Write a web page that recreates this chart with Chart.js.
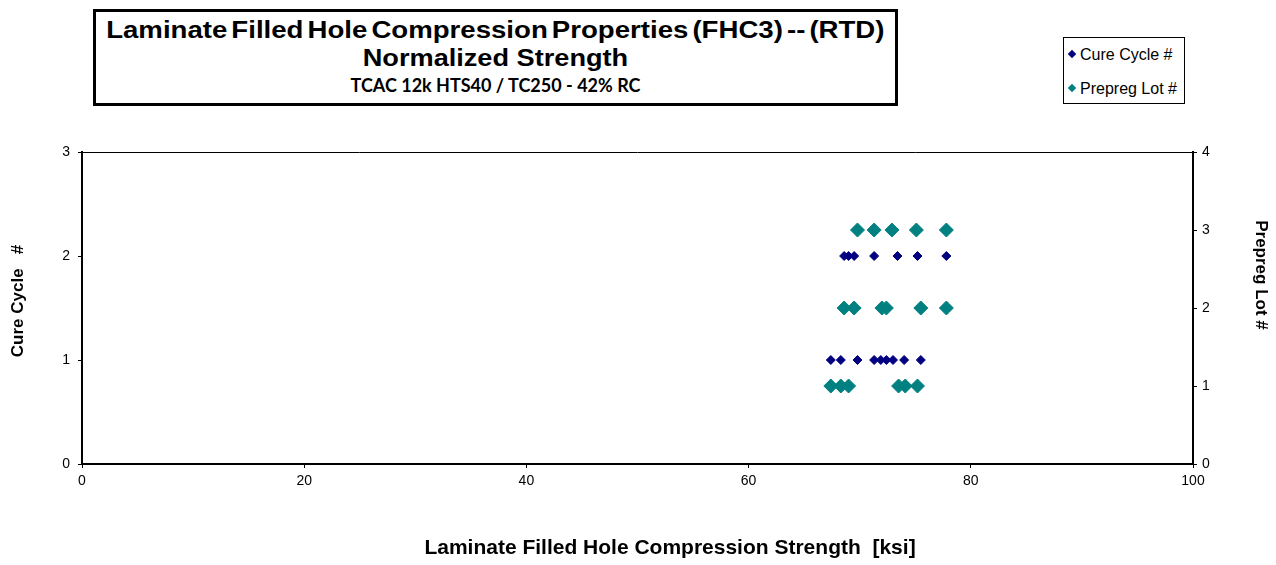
<!DOCTYPE html>
<html>
<head>
<meta charset="utf-8">
<script src="https://cdn.jsdelivr.net/npm/chart.js@4.4.1/dist/chart.umd.min.js"></script>
<style>
  body { margin: 0; background: #fff; }
  #wrap { position: relative; width: 1276px; height: 565px; }
  #chart { position: absolute; left: 0; top: 0; }
  #titleBox {
    position: absolute; left: 93px; top: 9px; width: 799px; height: 91px;
    border: 3px solid #000; background: #fff; text-align: center;
    font-family: "Liberation Sans", Arial, sans-serif; font-weight: bold; color: #000;
  }
  #titleBox div { line-height: 28px; }
  #titleBox span { display: inline-block; white-space: nowrap; }
  #titleBox .t1 { font-size: 23px; margin-top: 4px; }
  #titleBox .t1 span { transform: scaleX(1.2); word-spacing: -3px; }
  #titleBox .t2 { font-size: 23px; }
  #titleBox .t2 span { transform: scaleX(1.18); }
  #titleBox .t3 { font-family: Lato, "Open Sans", sans-serif; font-size: 18px; line-height: 26px; }
  #legendBox {
    position: absolute; left: 1063px; top: 37px; width: 120px; height: 65px;
    border: 1px solid #000; background: #fff;
    font-family: "Liberation Sans", Arial, sans-serif; font-size: 16px; color: #000;
  }
  .item { position: absolute; left: 5px; white-space: nowrap; }
  .mark { display: inline-block; width: 6px; height: 6px; transform: rotate(45deg); margin-right: 5px; vertical-align: 3px; }
</style>
</head>
<body>
<div id="wrap">
  <canvas id="chart" width="1276" height="565"></canvas>
  <div id="titleBox">
    <div class="t1"><span>Laminate Filled Hole Compression Properties (FHC3) -- (RTD)</span></div>
    <div class="t2"><span>Normalized Strength</span></div>
    <div class="t3"><span>TCAC 12k HTS40 / TC250 - 42% RC</span></div>
  </div>
  <div id="legendBox">
    <div class="item" style="top:8px"><span class="mark" style="background:#000080"></span>Cure Cycle #</div>
    <div class="item" style="top:42px"><span class="mark" style="background:#008080"></span>Prepreg Lot #</div>
  </div>
</div>
<script>
// values
var cureStrength = [68.6, 69.0, 69.5, 71.3, 73.4, 75.2, 77.8,
                    67.4, 68.3, 69.8, 71.3, 71.9, 72.4, 73.0, 74.0, 75.5];
var cureCycle    = [2, 2, 2, 2, 2, 2, 2,
                    1, 1, 1, 1, 1, 1, 1, 1, 1];

var lotStrength  = [69.8, 71.3, 72.9, 75.1, 77.8,
                    68.6, 69.5, 72.0, 72.4, 75.5, 77.8,
                    67.4, 68.3, 69.0, 73.5, 74.1, 75.2];
var prepregLot   = [3, 3, 3, 3, 3,
                    2, 2, 2, 2, 2, 2,
                    1, 1, 1, 1, 1, 1];

var xTicks = [0, 20, 40, 60, 80, 100];
var xTitle = 'Laminate Filled Hole Compression Strength  [ksi]';
var yTitle = 'Cure Cycle   #';
var y2Title = 'Prepreg Lot #';

function toPoints(xs, ys) {
  return xs.map(function(x, i) { return { x: x, y: ys[i] }; });
}

var tickFont = { family: '"Liberation Sans", Arial, sans-serif', size: 14 };

// frame top line and the three axis titles, placed like the original
var extras = {
  id: 'extras',
  afterDraw: function(chart) {
    var ctx = chart.ctx, a = chart.chartArea;
    ctx.save();
    ctx.strokeStyle = '#000';
    ctx.lineWidth = 1;
    ctx.beginPath();
    ctx.moveTo(a.left, a.top + 0.5);
    ctx.lineTo(a.right, a.top + 0.5);
    ctx.stroke();

    ctx.fillStyle = '#000';
    ctx.textAlign = 'center';
    ctx.textBaseline = 'middle';
    ctx.font = 'bold 21px "Liberation Sans", Arial, sans-serif';
    ctx.fillText(xTitle, 670, 548);

    ctx.font = 'bold 17px "Liberation Sans", Arial, sans-serif';
    ctx.save();
    ctx.translate(18, 301);
    ctx.rotate(-Math.PI / 2);
    ctx.fillText(yTitle, 0, 0);
    ctx.restore();

    ctx.font = 'bold 17px "Liberation Sans", Arial, sans-serif';
    ctx.save();
    ctx.translate(1261, 275);
    ctx.rotate(Math.PI / 2);
    ctx.fillText(y2Title, 0, 0);
    ctx.restore();
    ctx.restore();
  }
};

new Chart(document.getElementById('chart'), {
  type: 'scatter',
  data: {
    datasets: [{
      label: 'Cure Cycle #',
      data: toPoints(cureStrength, cureCycle),
      yAxisID: 'y',
      pointStyle: 'rectRot',
      pointRadius: 4.5,
      borderWidth: 1,
      backgroundColor: '#000080',
      borderColor: '#000080'
    }, {
      label: 'Prepreg Lot #',
      data: toPoints(lotStrength, prepregLot),
      yAxisID: 'y2',
      pointStyle: 'rectRot',
      pointRadius: 7,
      borderWidth: 1,
      backgroundColor: '#008080',
      borderColor: '#008080'
    }]
  },
  options: {
    responsive: false,
    animation: false,
    layout: { padding: { top: 152, left: 0, right: 0, bottom: 0 } },
    plugins: { legend: { display: false }, tooltip: { enabled: false } },
    scales: {
      x: {
        type: 'linear', min: 0, max: 100,
        afterBuildTicks: function(s) { s.ticks = xTicks.map(function(v) { return { value: v }; }); },
        afterFit: function(s) { s.height = 101; },
        border: { color: '#000', width: 2 },
        grid: { drawOnChartArea: false, color: '#000', tickLength: 4 },
        ticks: { color: '#000', font: tickFont, padding: 5, maxRotation: 0 }
      },
      y: {
        position: 'left', min: 0, max: 3,
        afterFit: function(s) { s.width = 82; },
        border: { color: '#000', width: 2 },
        grid: { drawOnChartArea: false, color: '#000', tickLength: 4 },
        ticks: { color: '#000', font: tickFont, stepSize: 1, padding: 8 }
      },
      y2: {
        position: 'right', min: 0, max: 4,
        afterFit: function(s) { s.width = 83; },
        border: { color: '#000', width: 2 },
        grid: { drawOnChartArea: false, color: '#000', tickLength: 4 },
        ticks: { color: '#000', font: tickFont, stepSize: 1, padding: 5 }
      }
    }
  },
  plugins: [extras]
});
</script>
</body>
</html>
